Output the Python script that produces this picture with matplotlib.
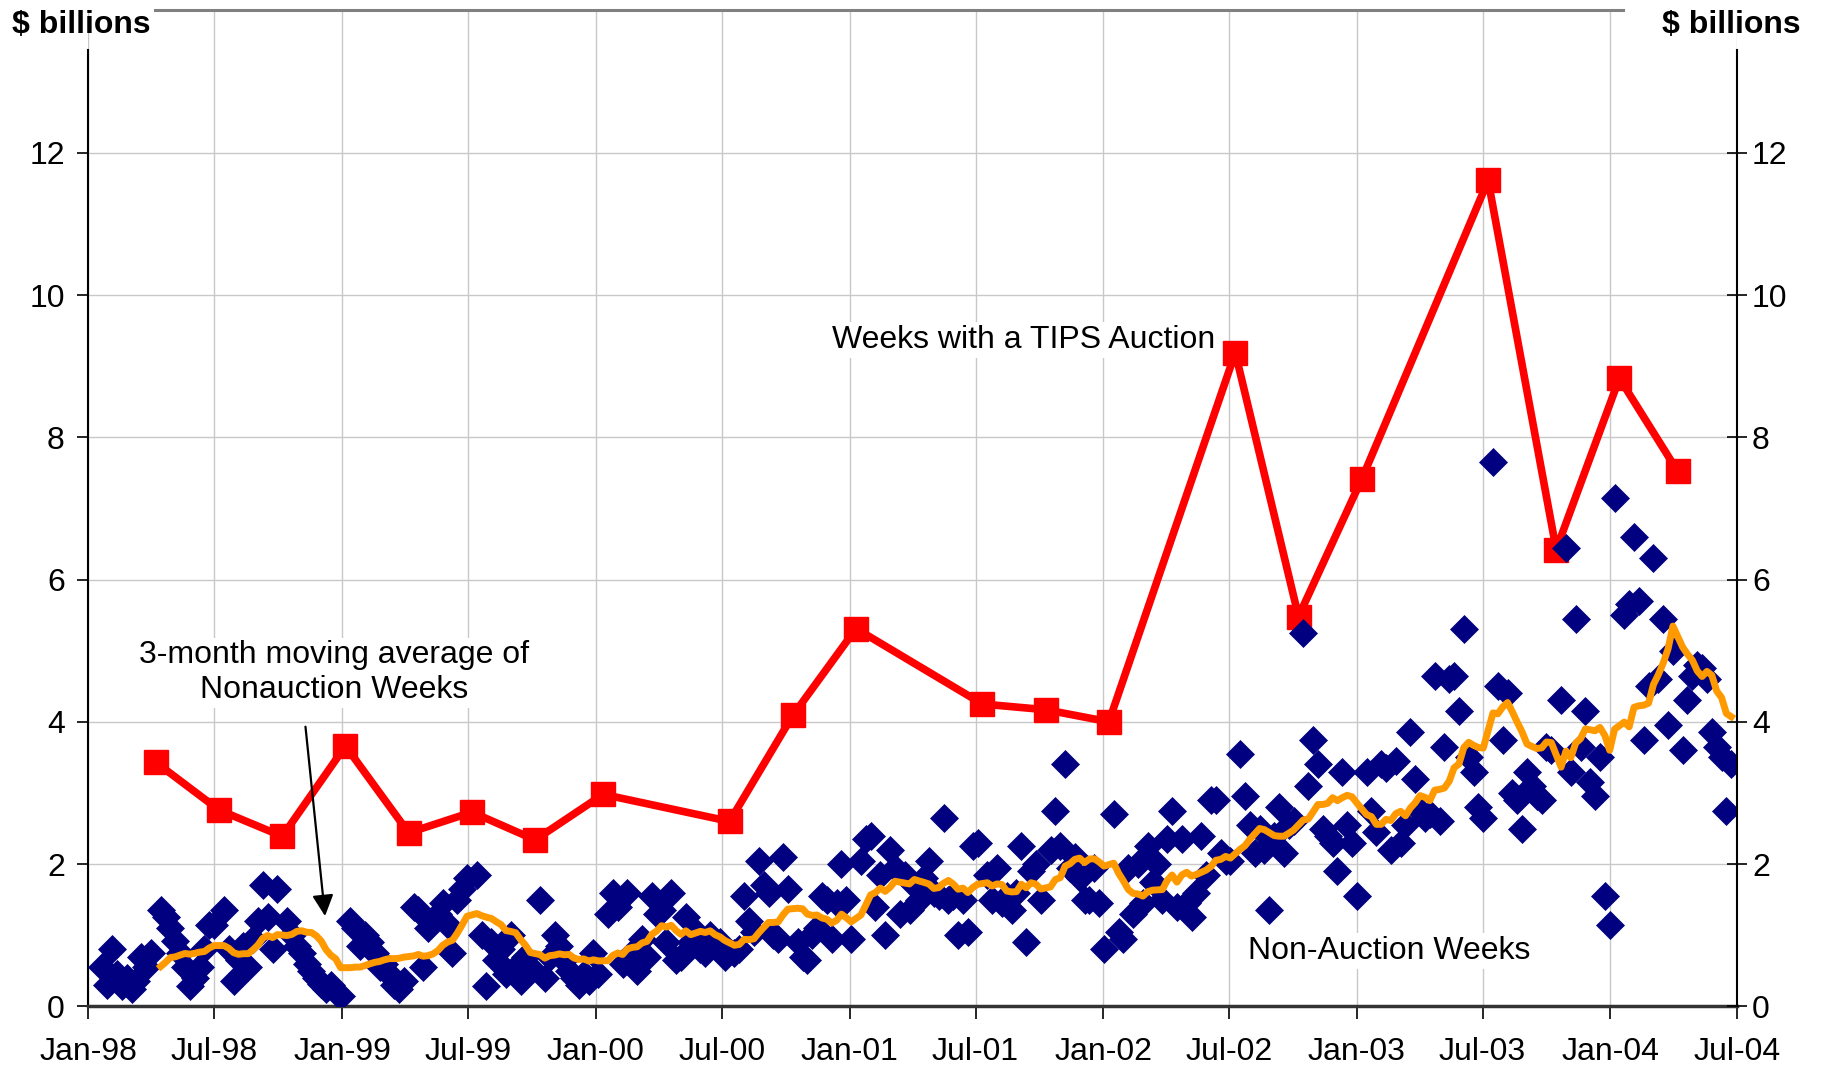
import datetime as dt
import numpy as np
import pandas as pd
import matplotlib
matplotlib.use('Agg')
import matplotlib.pyplot as plt
import matplotlib.dates as mdates

plt.rcParams['font.family'] = ['Liberation Sans', 'DejaVu Sans']

# weeks with a TIPS auction ($ billions)
auction_dates = ['1998-04-08', '1998-07-08', '1998-10-07', '1999-01-06', '1999-04-07',
                 '1999-07-07', '1999-10-06', '2000-01-12', '2000-07-12', '2000-10-11',
                 '2001-01-10', '2001-07-11', '2001-10-10', '2002-01-09', '2002-07-10',
                 '2002-10-09', '2003-01-08', '2003-07-09', '2003-10-15', '2004-01-14',
                 '2004-04-07']
auction_vals = [3.43, 2.76, 2.39, 3.66, 2.44, 2.73, 2.34, 2.98, 2.60, 4.09, 5.31,
                4.25, 4.17, 4.00, 9.19, 5.48, 7.41, 11.61, 6.42, 8.83, 7.52]

# non-auction weeks, one list per half-year (weekly, auction weeks left out)
na_1998h1 = [0.55, 0.30, 0.80, 0.45, 0.28, 0.40, 0.25, 0.35, 0.70, 0.55, 0.75,
             1.35, 1.25, 1.10, 0.92, 0.75, 0.55, 0.28, 0.40, 0.55, 0.80, 1.15]
na_1998h2 = [1.15, 1.35, 0.80, 0.35, 0.65, 0.85, 0.55, 0.95, 1.20, 1.70, 1.25, 0.80,
             1.65, 1.20, 1.00, 0.85, 0.75, 0.60, 0.50, 0.40, 0.32, 0.25, 0.30, 0.20, 0.15]
na_1999h1 = [1.20, 1.10, 0.85, 1.00, 0.90, 0.75, 0.55, 0.60, 0.45, 0.30, 0.25, 0.35,
             1.40, 1.35, 0.55, 1.10, 1.20, 1.30, 1.45, 1.15, 0.75, 1.50, 1.65, 1.80]
na_1999h2 = [1.85, 1.00, 0.28, 0.90, 0.65, 0.80, 0.45, 1.00, 0.55, 0.35, 0.70, 0.55,
             1.50, 0.40, 0.70, 1.00, 0.85, 0.65, 0.50, 0.40, 0.30, 0.45, 0.35, 0.75]
na_2000h1 = [0.45, 1.30, 1.60, 1.40, 0.60, 1.60, 0.75, 0.50, 0.95, 0.70, 1.55, 1.30,
             1.35, 0.90, 1.60, 0.65, 0.70, 1.25, 0.90, 1.05, 0.80, 0.75, 1.00, 0.85, 0.90]
na_2000h2 = [0.70, 0.75, 0.80, 1.55, 1.20, 1.05, 2.05, 1.70, 1.60, 1.00, 0.95, 2.10,
             1.65, 0.90, 0.70, 0.65, 1.00, 1.10, 1.55, 1.50, 0.95, 1.45, 2.00, 1.50]
na_2001h1 = [0.95, 2.05, 2.35, 2.40, 1.40, 1.85, 1.00, 2.20, 1.95, 1.30, 1.85, 1.35,
             1.70, 1.50, 1.80, 2.05, 1.60, 1.55, 2.65, 1.50, 1.55, 1.00, 1.50, 1.05, 2.25]
na_2001h2 = [2.30, 1.85, 1.50, 1.95, 1.45, 1.55, 1.35, 1.60, 2.25, 0.90, 1.90, 2.00,
             1.50, 2.20, 2.75, 2.25, 3.40, 1.95, 2.10, 1.80, 1.50, 1.50, 1.95, 1.45]
na_2002h1 = [0.80, 2.70, 1.05, 0.95, 1.95, 1.30, 2.00, 1.45, 2.25, 1.75, 2.00, 1.50,
             2.35, 2.75, 1.40, 2.35, 1.45, 1.25, 1.60, 2.40, 1.85, 2.90, 2.90, 2.15, 2.05]
na_2002h2 = [2.05, 3.55, 2.95, 2.55, 2.15, 2.50, 2.20, 1.35, 2.40, 2.80, 2.15, 2.55,
             2.60, 5.25, 3.10, 3.75, 3.40, 2.50, 2.40, 2.30, 1.90, 3.30, 2.55, 2.30]
na_2003h1 = [1.55, 3.30, 2.75, 2.45, 3.40, 3.35, 2.20, 3.45, 2.30, 2.55, 3.85, 3.20,
             2.75, 2.65, 2.70, 4.65, 2.60, 3.65, 4.60, 4.65, 4.15, 5.30, 3.50, 3.30, 2.80]
na_2003h2 = [2.65, 7.65, 4.50, 3.75, 4.40, 3.00, 2.90, 2.50, 3.30, 3.10, 2.95, 2.90,
             3.65, 3.60, 4.30, 6.45, 3.30, 5.45, 3.65, 4.15, 3.15, 2.95, 3.50, 1.55, 1.15]
na_2004h1 = [7.15, 5.50, 5.65, 6.60, 5.70, 3.75, 4.50, 6.30, 4.60, 5.45, 3.95, 5.00,
             3.60, 4.30, 4.65, 4.80, 4.75, 4.60, 3.85, 3.65, 3.50, 2.75, 3.40]

na_vals = (na_1998h1 + na_1998h2 + na_1999h1 + na_1999h2 + na_2000h1 + na_2000h2 +
           na_2001h1 + na_2001h2 + na_2002h1 + na_2002h2 + na_2003h1 + na_2003h2 +
           na_2004h1)

tick_dates = pd.date_range('1998-01-01', '2004-07-01', freq='6MS')

auction_dates = pd.to_datetime(auction_dates)
weeks = pd.date_range('1998-01-21', '2004-06-23', freq='7D')
na_dates = weeks[~weeks.isin(auction_dates)]
n = min(len(na_dates), len(na_vals))
na = pd.Series(na_vals[:n], index=na_dates[:n])

# 3-month (13 week) moving average of the non-auction weeks
ma = na.rolling('91D').mean()
ma = ma[ma.index >= na.index[0] + pd.Timedelta(days=84)]

fig = plt.figure(figsize=(18.24, 10.70), dpi=100)
ax = fig.add_axes([0.0485, 0.0595, 0.9037, 0.9307])
ax2 = ax.twinx()

ax.plot(auction_dates, auction_vals, color='#FF0000', lw=5.5, marker='s', ms=17,
        zorder=2)
ax.plot(na.index, na.values, ls='none', marker='D', ms=14.5, color='#000080',
        mec='#000080', mew=0.5, zorder=3)
ax.plot(ma.index, ma.values, color='#FF9900', lw=5, zorder=4)

ax.set_xlim(tick_dates[0], tick_dates[-1])
for a in (ax, ax2):
    a.set_ylim(0, 14)
    a.set_yticks(np.arange(0, 13, 2))
ax.set_xticks(tick_dates)
ax.xaxis.set_major_formatter(mdates.DateFormatter('%b-%y'))
ax.grid(True, color='#C8C8C8', lw=1.0)
ax.set_axisbelow(True)

fs = 23
ax.tick_params(axis='x', direction='out', length=9, width=1.2, pad=13, labelsize=fs)
ax.tick_params(axis='y', direction='out', length=8, width=1.2, pad=9, labelsize=fs)
ax2.tick_params(axis='y', direction='inout', length=14, width=1.2, pad=4, labelsize=fs)

ax.spines['left'].set_bounds(0, 13.45)
ax.spines['left'].set_linewidth(1.5)
ax.spines['bottom'].set_color('#333333')
ax.spines['bottom'].set_linewidth(2.5)
ax.spines['right'].set_visible(False)
ax.spines['top'].set_visible(False)
for s in ('left', 'top', 'bottom'):
    ax2.spines[s].set_visible(False)
ax2.spines['right'].set_bounds(0, 13.45)
ax2.spines['right'].set_linewidth(1.5)

# top border between the two unit labels
ax.plot([0.0402, 0.9308], [1, 1], transform=ax.transAxes, color='#808080', lw=2.2,
        clip_on=False)

fig.text(0.0064, 0.977, '$ billions', ha='left', va='center', fontsize=23,
         fontweight='bold')
fig.text(0.9873, 0.977, '$ billions', ha='right', va='center', fontsize=23,
         fontweight='bold')

white = dict(facecolor='white', edgecolor='none', pad=2)
ax.text(dt.datetime(2001, 9, 8), 9.37, 'Weeks with a TIPS Auction', ha='center',
        va='center', fontsize=fs, bbox=white, zorder=5)
ax.text(dt.datetime(1998, 12, 20), 4.69, '3-month moving average of\nNonauction Weeks',
        ha='center', va='center', fontsize=fs, bbox=white, zorder=5)
ax.text(dt.datetime(2003, 2, 17), 0.78, 'Non-Auction Weeks', ha='center', va='center',
        fontsize=fs, bbox=white, zorder=5)
ax.annotate('', xy=(dt.datetime(1998, 12, 8), 1.23), xytext=(dt.datetime(1998, 11, 9), 3.97),
            arrowprops=dict(arrowstyle='-|>', color='black', lw=1.6, mutation_scale=32),
            zorder=6)

fig.savefig('out.png', dpi=100)
